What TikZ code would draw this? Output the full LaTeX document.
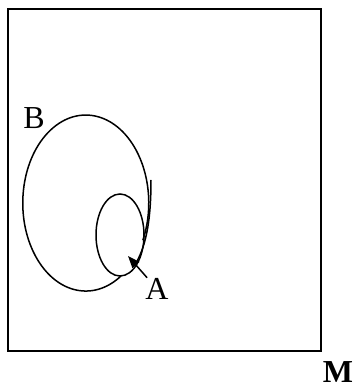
\documentclass[tikz,border=0pt]{standalone}
\usepackage{fontspec}
\setmainfont{Liberation Serif}
\usepackage{tikz}
\usetikzlibrary{arrows.meta}
\tikzset{
  orbit/.style={line width=1.5pt, color=black},
  frame/.style={line width=1.8pt, color=black},
  lbl/.style={inner sep=0.5pt, font=\fontsize{32}{36}\selectfont},
  arrow/.style={-{Triangle[length=12pt, width=9pt]}, line width=1.5pt, color=black}
}
\begin{document}
\begin{tikzpicture}[x=1pt, y=1pt]
  \useasboundingbox (0,0) rectangle (361,389);
  % Outer frame
  \draw[frame] (8,38) rectangle (321,380);

  % Spiral path: outer loop then inner loop
  \draw[orbit] (121,113) arc[start angle=-56, end angle=-385, x radius=63, y radius=88];
  \draw[orbit] (151,209) .. controls (151,172) and (147,145) .. (136,126);
  \draw[orbit] (120,154) ellipse[x radius=24, y radius=41];

  % Labels
  \node[lbl] (B) at (34,271) {B};
  \node[lbl] (A) at (157,100) {A};
  \node[lbl, font=\fontsize{32}{36}\selectfont\bfseries] (M) at (338,17) {M};

  \coordinate (tip) at (128,133);
  \draw[arrow] (A) -- (tip);
\end{tikzpicture}
\end{document}
